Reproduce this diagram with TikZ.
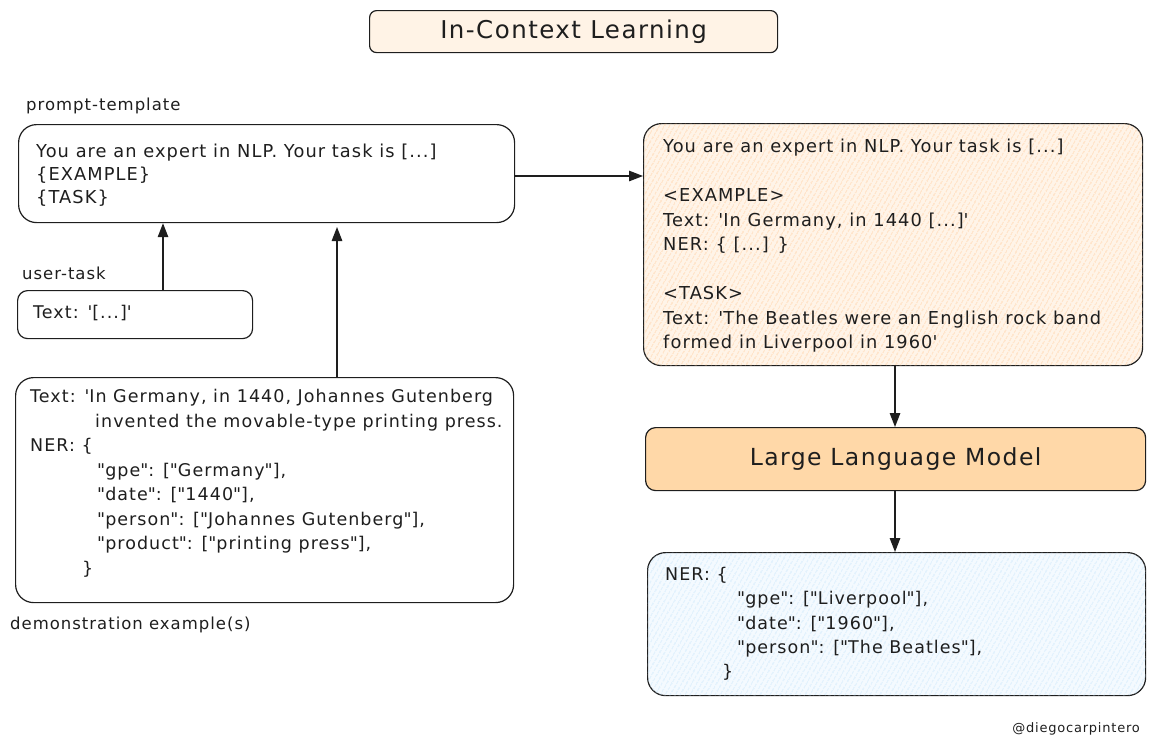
\documentclass[tikz,border=0pt]{standalone}
\usepackage{fontspec}
\setmainfont{DejaVu Sans}[LetterSpace=6]
\usetikzlibrary{arrows.meta,patterns.meta}
\definecolor{ink}{HTML}{1E1E1E}
\definecolor{peach}{HTML}{FFF3E6}
\definecolor{llmfill}{HTML}{FFD8A8}
\definecolor{orbase}{HTML}{FFF4E8}
\definecolor{orhatch}{HTML}{FFCC99}
\definecolor{blbase}{HTML}{F4FAFF}
\definecolor{blhatch}{HTML}{C6E4FA}
\newcommand\mystrut{\rule{0pt}{13pt}}
\newcommand\sq{\textquotesingle}
\newcommand\dq{\textquotedbl}
\begin{document}
\begin{tikzpicture}[x=1pt,y=-1pt,
 box/.style={draw=ink, line width=1.2pt, rounded corners=18pt, inner sep=0pt, anchor=north west},
 txt/.style={inner sep=0pt, anchor=north west, align=left, text=ink, font=\fontsize{17.5}{24.5}\selectfont},
 lbl/.style={inner sep=0pt, anchor=base west, text=ink, font=\fontsize{16.5}{19}\selectfont},
 arr/.style={draw=ink, line width=1.3pt, -{Triangle[length=14pt,width=10.5pt]}},
 hatch/.style={postaction={pattern={Lines[angle=60,distance=4pt,line width=0.55pt]}, pattern color=#1}},
]
\useasboundingbox (0,0) rectangle (1155,748);

% title
\node[box, rounded corners=7pt, fill=peach, minimum width=408pt, minimum height=42pt,
      font=\fontsize{24.5}{28}\selectfont, text=ink] (title) at (369,10) {In-Context Learning};

% prompt template
\node[lbl] (lbltmpl) at (26,110) {prompt-template};
\node[box, minimum width=496pt, minimum height=98pt] (tmpl) at (18,124) {};
\node[txt, font=\fontsize{17.8}{23}\selectfont] (tmpltext) at (36,144)
 {\mystrut You are an expert in NLP. Your task is [...]\\ \{EXAMPLE\}\\ \{TASK\}};

% user task
\node[lbl] (lbluser) at (22,279) {user-task};
\node[box, rounded corners=10pt, minimum width=235pt, minimum height=48pt] (user) at (17,290) {};
\node[txt, anchor=base west] (usertext) at (33,318) {Text: \sq[...]\sq};

% demonstration
\node[box, minimum width=498pt, minimum height=225pt] (demo) at (15,377) {};
\node[txt] (demotext) at (30,389)
 {\mystrut Text: \sq In Germany, in 1440, Johannes Gutenberg\\
  \hspace*{65pt}invented the movable-type printing press.\\
  NER: \{\\
  \hspace*{67pt}\dq gpe\dq: [\dq Germany\dq],\\
  \hspace*{67pt}\dq date\dq: [\dq 1440\dq],\\
  \hspace*{67pt}\dq person\dq: [\dq Johannes Gutenberg\dq],\\
  \hspace*{67pt}\dq product\dq: [\dq printing press\dq],\\
  \hspace*{52pt}\}};
\node[lbl] (lbldemo) at (10,629) {demonstration example(s)};

% filled prompt
\node[box, minimum width=499pt, minimum height=242pt, fill=orbase, hatch=orhatch] (prompt) at (643,123) {};
\node[txt, font=\fontsize{17.8}{24.5}\selectfont] (prompttext) at (663,139)
 {\mystrut You are an expert in NLP. Your task is [...]\\[24.5pt]
  <EXAMPLE>\\
  Text: \sq In Germany, in 1440 [...]\sq\\
  NER: \{ [...] \}\\[24.5pt]
  <TASK>\\
  Text: \sq The Beatles were an English rock band\\
  formed in Liverpool in 1960\sq};

% LLM
\node[box, rounded corners=10pt, minimum width=500pt, minimum height=63pt, fill=llmfill,
      font=\fontsize{23.5}{27}\selectfont, text=ink] (llm) at (645,427) {Large Language Model};

% output
\node[box, minimum width=498pt, minimum height=143pt, fill=blbase, hatch=blhatch] (out) at (647,552) {};
\node[txt, font=\fontsize{17.5}{24.3}\selectfont] (outtext) at (665,567)
 {\mystrut NER: \{\\
  \hspace*{72pt}\dq gpe\dq: [\dq Liverpool\dq],\\
  \hspace*{72pt}\dq date\dq: [\dq 1960\dq],\\
  \hspace*{72pt}\dq person\dq: [\dq The Beatles\dq],\\
  \hspace*{57pt}\}};

\node[inner sep=0pt, anchor=base east, text=ink, font=\fontsize{13}{15}\selectfont] (mark) at (1140,732) {@diegocarpintero};

% connectors
\coordinate (a1) at (163,0);
\coordinate (a2) at (337,227);
\coordinate (a3) at (895,0);
\coordinate (a4) at (0,176);
\draw[arr] (user.north -| a1) -- (tmpl.south -| a1);
\draw[arr] (demo.north -| a2) -- (a2);
\draw[arr] (tmpl.east |- a4) -- (prompt.west |- a4);
\draw[arr] (prompt.south -| a3) -- (llm.north -| a3);
\draw[arr] (llm.south -| a3) -- (out.north -| a3);
\end{tikzpicture}
\end{document}
